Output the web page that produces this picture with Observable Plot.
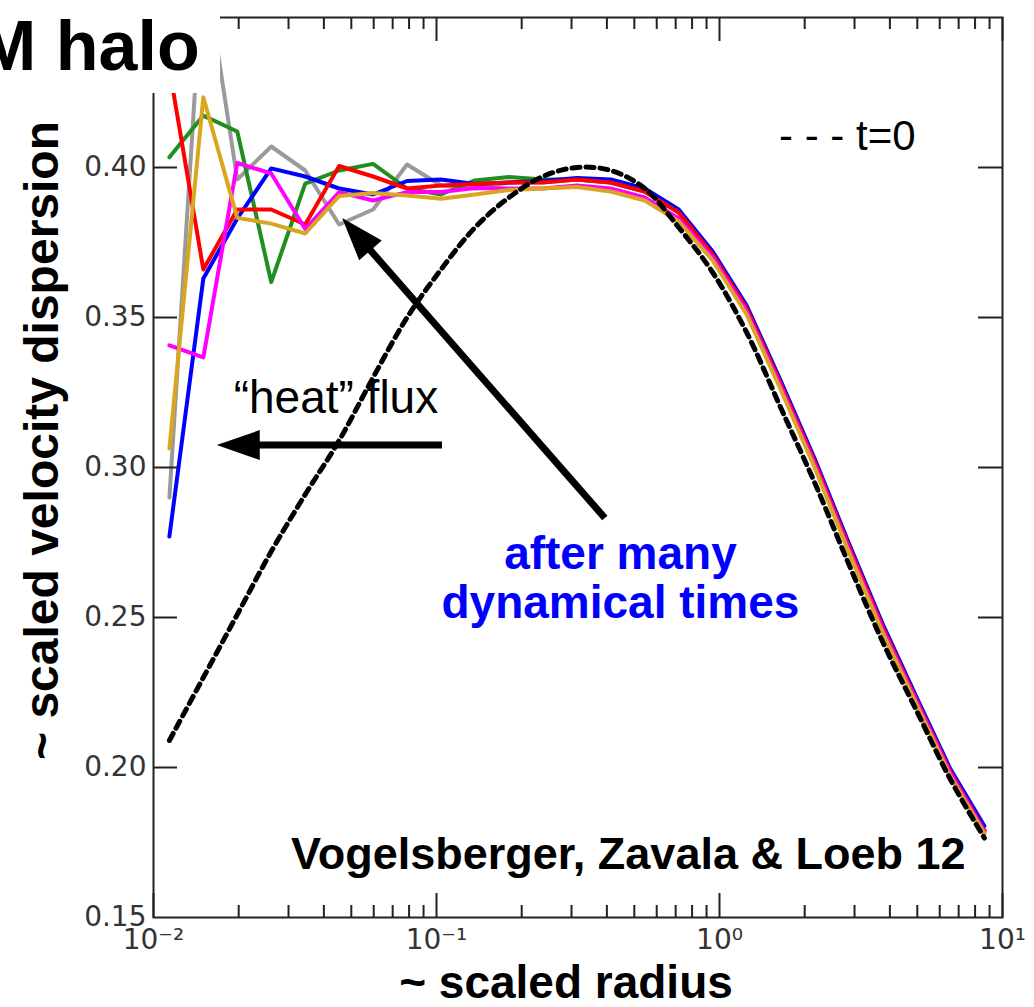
<!DOCTYPE html>
<html>
<head>
<meta charset="utf-8">
<script src="https://cdn.jsdelivr.net/npm/d3@7"></script>
<script src="https://cdn.jsdelivr.net/npm/@observablehq/plot@0.6"></script>
<style>
  html, body { margin: 0; padding: 0; background: #fff; }
  #wrap { position: relative; width: 1034px; height: 1007px; overflow: hidden; }
  #title { position: absolute; left: 0; top: 0; width: 220px; height: 93px; background: #fff;
           font-family: "Liberation Sans", Arial, sans-serif; font-weight: bold; font-size: 70px;
           line-height: 93px; white-space: nowrap; overflow: hidden; text-indent: -22px; color: #000; }
</style>
</head>
<body>
<div id="wrap"><div id="chart"></div><div id="title">M halo</div></div>
<script>
// ---- data ----
const radius = [0.01138, 0.01500, 0.01977, 0.02606, 0.03436, 0.04529, 0.05970, 0.07870, 0.10375,
  0.13677, 0.18030, 0.23768, 0.31333, 0.41305, 0.54450, 0.71779, 0.94624, 1.2474, 1.6444,
  2.1677, 2.8576, 3.7670, 4.9659, 6.5464, 8.6298];

const grayRun    = [0.290, 0.470, 0.396, 0.407, 0.399, 0.381, 0.386, 0.401, 0.394, 0.393, 0.395, 0.395, 0.396, 0.395, 0.392, 0.385, 0.371, 0.353, 0.328, 0.302, 0.274, 0.247, 0.2225, 0.1985, 0.179];
const greenRun   = [0.4034, 0.4173, 0.412, 0.3618, 0.3946, 0.399, 0.4012, 0.393, 0.391, 0.3957, 0.3968, 0.396, 0.396, 0.395, 0.392, 0.385, 0.371, 0.353, 0.328, 0.302, 0.274, 0.247, 0.2225, 0.1985, 0.179];
const blueRun    = [0.277, 0.363, 0.383, 0.3997, 0.397, 0.393, 0.391, 0.3955, 0.396, 0.3945, 0.395, 0.3955, 0.3965, 0.396, 0.393, 0.386, 0.372, 0.354, 0.329, 0.303, 0.275, 0.248, 0.2235, 0.1995, 0.1805];
const redRun     = [0.433, 0.366, 0.386, 0.386, 0.381, 0.4005, 0.397, 0.393, 0.394, 0.3945, 0.395, 0.395, 0.396, 0.395, 0.392, 0.385, 0.371, 0.353, 0.328, 0.302, 0.274, 0.247, 0.2225, 0.1985, 0.179];
const magentaRun = [0.3407, 0.3367, 0.4015, 0.398, 0.3795, 0.3918, 0.389, 0.3918, 0.3918, 0.3932, 0.393, 0.393, 0.394, 0.393, 0.390, 0.383, 0.370, 0.352, 0.327, 0.301, 0.273, 0.246, 0.222, 0.198, 0.1785];
const orangeRun  = [0.3063, 0.4234, 0.3832, 0.3813, 0.378, 0.3905, 0.3915, 0.3907, 0.3896, 0.391, 0.3925, 0.393, 0.3935, 0.392, 0.389, 0.382, 0.369, 0.351, 0.326, 0.300, 0.272, 0.245, 0.221, 0.197, 0.178];
const initialT0  = [0.209, 0.230, 0.251, 0.272, 0.291, 0.309, 0.330, 0.350, 0.366, 0.380, 0.390, 0.397, 0.400, 0.399, 0.393, 0.380, 0.365, 0.345, 0.320, 0.295, 0.268, 0.242, 0.219, 0.196, 0.1765];

const runNames  = ["gray", "green", "blue", "red", "magenta", "orange"];
const runValues = [grayRun, greenRun, blueRun, redRun, magentaRun, orangeRun];
const runColors = ["#9a9a9a", "#1f8f1f", "#0000ff", "#ff0000", "#ff00ff", "#daa520"];

const xMajor = [0.01, 0.1, 1, 10];
const xTickLabels = ["10⁻²", "10⁻¹", "10⁰", "10¹"];
const xMinor = [0.02, 0.03, 0.04, 0.05, 0.06, 0.07, 0.08, 0.09,
                0.2, 0.3, 0.4, 0.5, 0.6, 0.7, 0.8, 0.9,
                2, 3, 4, 5, 6, 7, 8, 9];
const yTicks = [0.20, 0.25, 0.30, 0.35, 0.40];
const yTickLabels = [0.15, 0.20, 0.25, 0.30, 0.35, 0.40];

// annotations (data coordinates)
const notes = [
  {text: "“heat” flux", r: 0.0192, v: 0.3183, anchor: "start", weight: "normal", size: 46, color: "#000"},
  {text: "- - - t=0", r: 4.93, v: 0.4057, anchor: "end", weight: "normal", size: 42, color: "#000"},
  {text: "after many", r: 0.4467, v: 0.2663, anchor: "middle", weight: "bold", size: 46, color: "#0000ff"},
  {text: "dynamical times", r: 0.4467, v: 0.2497, anchor: "middle", weight: "bold", size: 46, color: "#0000ff"},
  {text: "Vogelsberger, Zavala & Loeb 12", r: 7.40, v: 0.1663, anchor: "end", weight: "bold", size: 45, color: "#000"}
];
const arrows = [
  {r1: 0.105, v1: 0.3073, r2: 0.0168, v2: 0.3073},
  {r1: 0.395, v1: 0.283, r2: 0.0466, v2: 0.383}
];

// ---- build ----
const W = 1034, H = 1007;
const mL = 153, mR = 32, mT = 17, mB = 90;
const innerW = W - mL - mR, innerH = H - mT - mB;
const sans = "Liberation Sans, Arial, sans-serif";

const rows = [];
runNames.forEach((name, s) => radius.forEach((r, i) => rows.push({run: name, r, v: runValues[s][i]})));
const t0rows = radius.map((r, i) => ({r, v: initialT0[i]}));

const tickStyle = {stroke: "#222", strokeWidth: 2};

const arrowMark = (index, scales) => {
  const g = d3.create("svg:g");
  for (const a of arrows) {
    const x1 = scales.x(a.r1), y1 = scales.y(a.v1), x2 = scales.x(a.r2), y2 = scales.y(a.v2);
    const dx = x2 - x1, dy = y2 - y1, len = Math.hypot(dx, dy);
    const ux = dx / len, uy = dy / len, nx = -uy, ny = ux;
    const L = 43, hw = 15;
    const bx = x2 - ux * L, by = y2 - uy * L;
    g.append("line").attr("x1", x1).attr("y1", y1).attr("x2", bx + ux * 2).attr("y2", by + uy * 2)
      .attr("stroke", "#000").attr("stroke-width", 7);
    g.append("path").attr("d", `M${x2},${y2}L${bx + nx * hw},${by + ny * hw}L${bx - nx * hw},${by - ny * hw}Z`)
      .attr("fill", "#000");
  }
  return g.node();
};

const chart = Plot.plot({
  width: W, height: H,
  marginLeft: mL, marginRight: mR, marginTop: mT, marginBottom: mB,
  style: {fontFamily: "DejaVu Sans, sans-serif", background: "#fff", overflow: "visible"},
  x: {type: "log", domain: [0.01, 10], label: null},
  y: {domain: [0.15, 0.45], label: null},
  marks: [
    ...runNames.map((name, s) => Plot.line(rows.filter(d => d.run === name),
      {x: "r", y: "v", stroke: runColors[s], strokeWidth: 4, clip: true})),
    Plot.line(t0rows, {x: "r", y: "v", stroke: "#000", strokeWidth: 5, strokeDasharray: "8,6",
      curve: "catmull-rom", clip: true}),
    Plot.frame({stroke: "#222", strokeWidth: 2}),
    Plot.ruleX(xMajor, {insetTop: innerH - 24, ...tickStyle}),
    Plot.ruleX(xMajor, {insetBottom: innerH - 24, ...tickStyle}),
    Plot.ruleX(xMinor, {insetTop: innerH - 12, ...tickStyle}),
    Plot.ruleX(xMinor, {insetBottom: innerH - 12, ...tickStyle}),
    Plot.ruleY(yTicks, {insetRight: innerW - 24, ...tickStyle}),
    Plot.ruleY(yTicks, {insetLeft: innerW - 24, ...tickStyle}),
    Plot.axisX(xMajor, {tickSize: 0, tickPadding: 12, label: null, fontSize: 28, fill: "#333",
      tickFormat: d => xTickLabels[xMajor.indexOf(d)]}),
    Plot.axisY(yTickLabels, {tickSize: 0, tickPadding: 7, label: null, fontSize: 28, fill: "#333",
      tickFormat: d => d.toFixed(2)}),
    Plot.text(["~ scaled velocity dispersion"], {frameAnchor: "left", dx: -111, dy: -27, rotate: -90,
      textAnchor: "middle", lineAnchor: "middle",
      fontSize: 48, fontWeight: "bold", fontFamily: sans, fill: "#000"}),
    Plot.text(["~ scaled radius"], {frameAnchor: "bottom", dx: -12, dy: 66,
      textAnchor: "middle", lineAnchor: "middle",
      fontSize: 46, fontWeight: "bold", fontFamily: sans, fill: "#000"}),
    ...notes.map(n => Plot.text([n], {x: "r", y: "v", text: "text", textAnchor: n.anchor, lineAnchor: "bottom",
      fontSize: n.size, fontWeight: n.weight, fontFamily: sans, fill: n.color})),
    arrowMark
  ]
});
document.getElementById("chart").appendChild(chart);
</script>
</body>
</html>
